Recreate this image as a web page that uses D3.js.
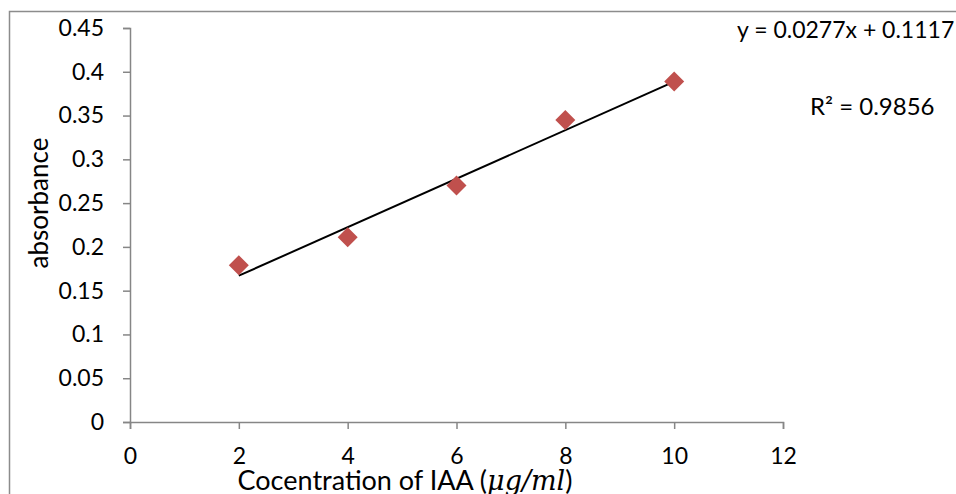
<!DOCTYPE html>
<html>
<head>
<meta charset="utf-8">
<script src="https://cdn.jsdelivr.net/npm/d3@7"></script>
<style>
  body { margin: 0; background: #fff; }
  svg text { font-family: Lato, "Open Sans", sans-serif; fill: #000; }
</style>
</head>
<body>
<script>
// data
var concentration = [2, 4, 6, 8, 10];
var absorbance = [0.179, 0.211, 0.270, 0.345, 0.389];
var xTicks = [0, 2, 4, 6, 8, 10, 12];
var yTicks = [0, 0.05, 0.1, 0.15, 0.2, 0.25, 0.3, 0.35, 0.4, 0.45];
var slope = 0.0277, intercept = 0.1117;

var W = 956, H = 494;
var svg = d3.select('body').append('svg')
    .attr('width', W).attr('height', H);

// chart frame (only top and left visible)
svg.append('path')
    .attr('d', 'M9.5,' + H + 'V11.5H' + W)
    .attr('fill', 'none').attr('stroke', '#8c8c8c').attr('stroke-width', 1.5);

var xScale = d3.scaleLinear().domain([0, 12]).range([130, 783]);
var yScale = d3.scaleLinear().domain([0, 0.45]).range([422, 28]);

var xAxis = d3.axisBottom(xScale).tickValues(xTicks).tickSize(7).tickSizeOuter(7)
    .tickFormat(d3.format('d'));
var yAxis = d3.axisLeft(yScale).tickValues(yTicks).tickSize(7).tickSizeOuter(7)
    .tickFormat(function(d) { return d === 0 ? '0' : String(+d.toFixed(2)); });

var gx = svg.append('g').attr('transform', 'translate(0,' + yScale(0) + ')').call(xAxis);
var gy = svg.append('g').attr('transform', 'translate(' + xScale(0) + ',0)').call(yAxis);

[gx, gy].forEach(function(g) {
    g.selectAll('path,line').attr('stroke', '#868686').attr('stroke-width', 1.5);
    g.selectAll('text').style('font-size', '23px').attr('fill', '#000');
});
gx.selectAll('text').attr('y', 42).attr('dy', 0);
gy.selectAll('text').attr('x', -26);

// trendline
svg.append('line')
    .attr('x1', xScale(2)).attr('y1', yScale(slope * 2 + intercept))
    .attr('x2', xScale(10)).attr('y2', yScale(slope * 10 + intercept))
    .attr('stroke', '#000').attr('stroke-width', 2);

// diamond markers
var pts = concentration.map(function(c, i) { return {x: c, y: absorbance[i]}; });
svg.selectAll('.dot').data(pts).enter().append('path')
    .attr('class', 'dot')
    .attr('d', d3.symbol().type(d3.symbolSquare).size(200))
    .attr('transform', function(d) {
        return 'translate(' + xScale(d.x) + ',' + yScale(d.y) + ') rotate(45)';
    })
    .attr('fill', '#c0504d');

// axis titles
svg.append('text')
    .attr('transform', 'translate(48,203) rotate(-90)')
    .attr('text-anchor', 'middle')
    .style('font-size', '26px')
    .text('absorbance');

var xt = svg.append('text')
    .attr('x', 405).attr('y', 490)
    .attr('text-anchor', 'middle')
    .style('font-size', '27px');
xt.append('tspan').text('Cocentration of IAA (');
xt.append('tspan').style('font-family', '"DejaVu Serif", serif').style('font-style', 'italic')
    .text('\u03bcg/ml');
xt.append('tspan').text(')');

// trendline labels
svg.append('text')
    .attr('x', 737).attr('y', 38)
    .style('font-size', '23px')
    .text('y = ' + slope + 'x + ' + intercept);
svg.append('text')
    .attr('x', 810).attr('y', 115)
    .style('font-size', '24px')
    .text('R\u00b2 = 0.9856');
</script>
</body>
</html>
